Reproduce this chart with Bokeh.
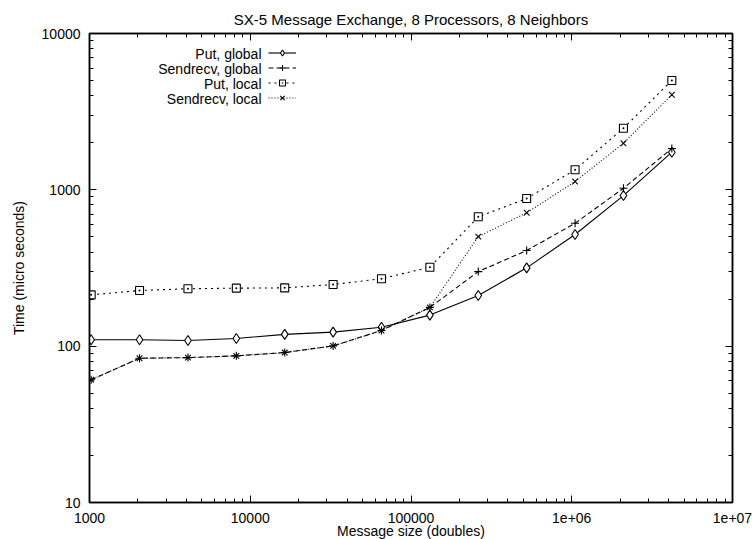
from bokeh.plotting import figure
from bokeh.models import (LogAxis, LogTicker, CustomJSTickFormatter, Legend, LegendItem, Label)
from bokeh.embed import file_html
from bokeh.resources import INLINE

# ---- data ----
sizes = [1024, 2048, 4096, 8192, 16384, 32768, 65536, 131072, 262144,
         524288, 1048576, 2097152, 4194304]
put_global = [110, 110, 108.6, 112, 119, 123, 132, 158, 211, 317, 518, 919, 1741]
sendrecv_global = [61, 83.7, 84.5, 86.7, 91, 100.4, 126, 177, 300, 409, 611, 1023, 1837]
put_local = [213, 227, 233, 235, 236, 248, 270, 320, 672, 880, 1343, 2477, 5003]
sendrecv_local = [61, 83.7, 84.5, 86.7, 91, 100.4, 126, 177, 502, 713, 1130, 1986, 4055]
series_names = ["Put, global", "Sendrecv, global", "Put, local", "Sendrecv, local"]

FONT = "Liberation Sans"
FS = "14px"
FH = 469
FW = 643

p = figure(x_axis_type="log", y_axis_type="log",
           x_range=(1000, 1e7), y_range=(10, 10000),
           frame_width=FW, frame_height=FH,
           min_border_left=89, min_border_right=20,
           min_border_top=33, min_border_bottom=37,
           output_backend="svg", toolbar_location=None,
           title="SX-5 Message Exchange, 8 Processors, 8 Neighbors")
p.grid.visible = False
p.outline_line_color = "black"
p.outline_line_width = 1.5
p.outline_line_alpha = 1
p.background_fill_color = "white"
p.border_fill_color = "white"

p.title.align = "center"
p.title.text_font = FONT
p.title.text_font_size = "15px"
p.title.text_font_style = "normal"
p.title.text_color = "black"
p.title.standoff = 12

xfmt = CustomJSTickFormatter(code="""
const e = Math.round(Math.log10(tick));
if (tick >= 1e6) { return "1e+" + (e < 10 ? "0" : "") + e; }
return String(Math.round(tick));
""")
yfmt = CustomJSTickFormatter(code="return String(Math.round(tick));")

for ax, fmt in ((p.xaxis[0], xfmt), (p.yaxis[0], yfmt)):
    ax.ticker = LogTicker(num_minor_ticks=10)
    ax.formatter = fmt
    ax.axis_line_color = "black"
    ax.axis_line_width = 1.5
    ax.major_tick_in = 7
    ax.major_tick_out = 0
    ax.minor_tick_in = 4
    ax.minor_tick_out = 0
    ax.major_tick_line_color = "black"
    ax.minor_tick_line_color = "black"
    ax.major_label_text_font = FONT
    ax.major_label_text_font_size = FS
    ax.major_label_text_color = "black"
    ax.axis_label_text_font = FONT
    ax.axis_label_text_font_size = FS
    ax.axis_label_text_font_style = "normal"
    ax.axis_label_text_color = "black"

p.xaxis[0].axis_label = "Message size (doubles)"
p.xaxis[0].major_label_standoff = 10
p.xaxis[0].axis_label_standoff = -3
p.yaxis[0].axis_label = "Time (micro seconds)"
p.yaxis[0].major_label_standoff = 9
p.yaxis[0].axis_label_standoff = 12

# mirrored ticks on top and right
for side in ("above", "right"):
    ax = LogAxis(ticker=LogTicker(num_minor_ticks=10),
                 major_label_text_font_size="2px", major_label_text_alpha=0,
                 major_label_standoff=0,
                 axis_line_color="black", axis_line_width=1.5,
                 major_tick_in=7, major_tick_out=0,
                 minor_tick_in=4, minor_tick_out=0,
                 major_tick_line_color="black", minor_tick_line_color="black")
    p.add_layout(ax, side)

styles = [
    (put_global, "solid", "diamond", 10),
    (sendrecv_global, "5 3", "cross", 8),
    (put_local, "2 4", "square_dot", 8),
    (sendrecv_local, "1 2", "x", 8),
]

items = []
for (ys, dash, marker, size), name in zip(styles, series_names):
    ln = p.line(sizes, ys, line_color="black", line_width=1.1, line_dash=dash)
    sc = p.scatter(sizes, ys, marker=marker, size=size, line_color="black",
                   fill_color="white" if marker in ("diamond", "square_dot") else None,
                   line_width=1.1)
    items.append(LegendItem(label=" ", renderers=[ln, sc]))

legend = Legend(items=items, location=(179, FH - 12 - 60),
                glyph_width=28, glyph_height=15, label_width=1,
                spacing=0, padding=0, margin=0, label_standoff=0,
                label_text_font_size="2px", label_text_alpha=0,
                border_line_alpha=0, background_fill_alpha=0)
p.add_layout(legend, "center")

for i, name in enumerate(series_names):
    p.add_layout(Label(x=172, y=FH - 20 - 15 * i, x_units="screen", y_units="screen",
                       text=name, text_align="right", text_baseline="middle",
                       text_font=FONT, text_font_size=FS, text_color="black"))

open("out.html", "w").write(file_html(p, INLINE))
